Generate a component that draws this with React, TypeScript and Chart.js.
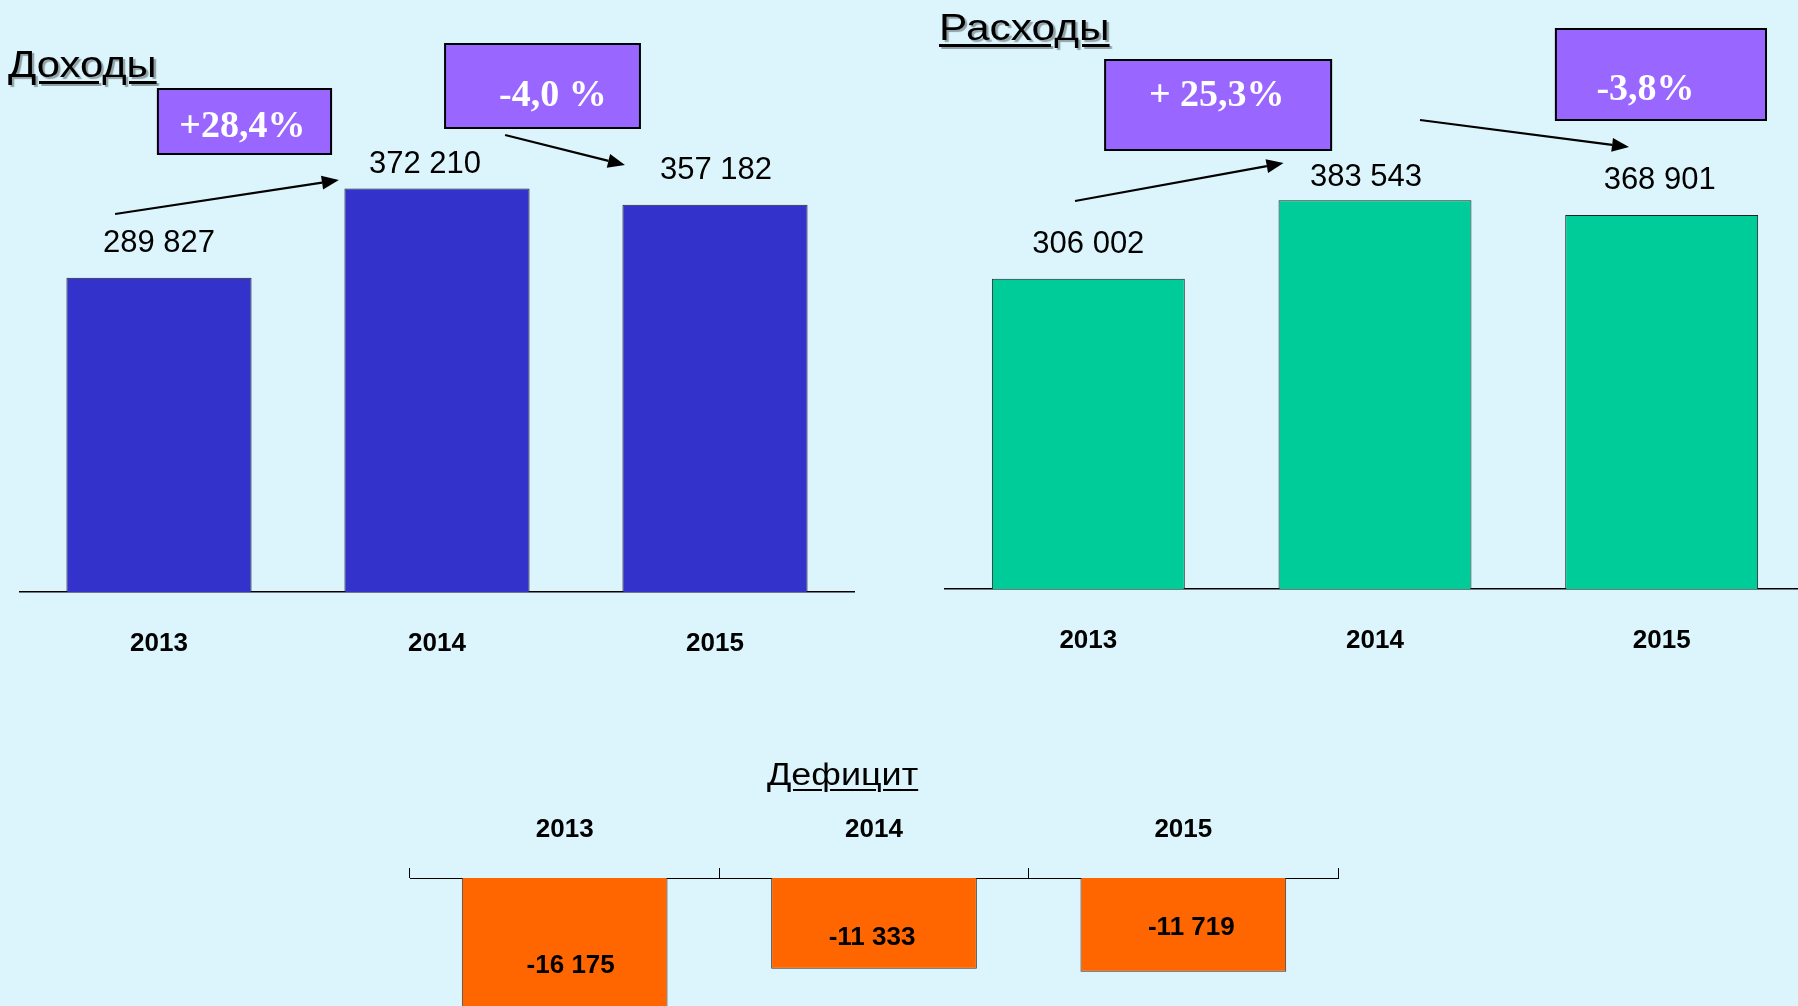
import React, { useEffect, useRef } from "react";
import { Chart, registerables } from "chart.js";

Chart.register(...registerables);

// ---------- data ----------
const years = ["2013", "2014", "2015"];
const incomeValues = [289827, 372210, 357182];
const expenseValues = [306002, 383543, 368901];
const deficitValues = [-16175, -11333, -11719];
const incomeChanges = ["+28,4%", "-4,0 %"];
const expenseChanges = ["+ 25,3%", "-3,8%"];

// ---------- styles ----------
const SANS = '"Liberation Sans", Arial, sans-serif';
const SERIF = '"Liberation Serif", "Times New Roman", serif';
const BG = "#DCF5FC";

type Ann = { box: number[]; label: string; textAt: number[]; arrow: number[] };
type Overlay = {
  labelOffsets: number[][];
  labelFont: string;
  fromBase: boolean;
  annotations: Ann[];
};

function fmt(v: number): string {
  const s = Math.abs(v).toString().replace(/\B(?=(\d{3})+(?!\d))/g, " ");
  return (v < 0 ? "-" : "") + s;
}

function overlayPlugin(id: string, cfg: Overlay) {
  return {
    id,
    afterDatasetsDraw(chart: any) {
      const ctx = chart.ctx;
      const meta = chart.getDatasetMeta(0);
      const values = chart.data.datasets[0].data as number[];
      ctx.save();
      ctx.font = cfg.labelFont;
      ctx.fillStyle = "#000";
      ctx.textAlign = "center";
      ctx.textBaseline = "alphabetic";
      meta.data.forEach((el: any, i: number) => {
        const [dx, dy] = cfg.labelOffsets[i];
        const y0 = cfg.fromBase ? el.base : el.y;
        ctx.fillText(fmt(values[i]), el.x + dx, y0 + dy);
      });
      const xs = chart.scales.x;
      const ys = chart.scales.y;
      const px = (i: number) => xs.getPixelForValue(i);
      const py = (v: number) => ys.getPixelForValue(v);
      cfg.annotations.forEach((a) => {
        const x0 = px(a.box[0]);
        const y0 = py(a.box[1]);
        const x1 = px(a.box[2]);
        const y1 = py(a.box[3]);
        ctx.fillStyle = "#9966FF";
        ctx.fillRect(x0, y0, x1 - x0, y1 - y0);
        ctx.lineWidth = 2;
        ctx.strokeStyle = "#000";
        ctx.strokeRect(x0, y0, x1 - x0, y1 - y0);
        ctx.fillStyle = "#fff";
        ctx.font = `bold 38px ${SERIF}`;
        ctx.textAlign = "center";
        ctx.fillText(a.label, px(a.textAt[0]), py(a.textAt[1]));
        // arrow
        const ax0 = px(a.arrow[0]);
        const ay0 = py(a.arrow[1]);
        const ax1 = px(a.arrow[2]);
        const ay1 = py(a.arrow[3]);
        const ang = Math.atan2(ay1 - ay0, ax1 - ax0);
        const hl = 17;
        const hw = 7;
        ctx.strokeStyle = "#000";
        ctx.lineWidth = 2.2;
        ctx.beginPath();
        ctx.moveTo(ax0, ay0);
        ctx.lineTo(ax1 - hl * Math.cos(ang), ay1 - hl * Math.sin(ang));
        ctx.stroke();
        ctx.fillStyle = "#000";
        ctx.beginPath();
        ctx.moveTo(ax1, ay1);
        ctx.lineTo(
          ax1 - hl * Math.cos(ang) + hw * Math.sin(ang),
          ay1 - hl * Math.sin(ang) - hw * Math.cos(ang)
        );
        ctx.lineTo(
          ax1 - hl * Math.cos(ang) - hw * Math.sin(ang),
          ay1 - hl * Math.sin(ang) + hw * Math.cos(ang)
        );
        ctx.closePath();
        ctx.fill();
      });
      ctx.restore();
    },
  };
}

function topChart(
  canvas: HTMLCanvasElement,
  values: number[],
  color: string,
  catPct: number,
  padding: any,
  overlay: Overlay
) {
  return new Chart(canvas, {
    type: "bar",
    data: {
      labels: years,
      datasets: [
        {
          data: values,
          backgroundColor: color,
          borderColor: "#222",
          borderWidth: 1,
          barPercentage: 1,
          categoryPercentage: catPct,
        },
      ],
    },
    options: {
      responsive: false,
      maintainAspectRatio: false,
      animation: false,
      layout: { padding },
      plugins: {
        legend: { display: false },
        tooltip: { enabled: false },
        title: { display: false },
      },
      scales: {
        x: {
          grid: { display: false, drawTicks: false },
          border: { display: true, color: "#000", width: 1.5 },
          ticks: {
            color: "#000",
            padding: 36.4,
            font: { family: SANS, size: 26, weight: "bold" },
          },
        },
        y: { display: false, min: 0, max: 500000 },
      },
    },
    plugins: [overlayPlugin("ov" + color.slice(1), overlay)],
  } as any);
}

export default function App() {
  const leftRef = useRef<HTMLCanvasElement>(null);
  const rightRef = useRef<HTMLCanvasElement>(null);
  const defRef = useRef<HTMLCanvasElement>(null);

  useEffect(() => {
    const charts: Chart[] = [];
    charts.push(
      topChart(
        leftRef.current!,
        incomeValues,
        "#3333CC",
        0.666,
        { left: 20, right: 26, top: 49.8, bottom: 0 },
        {
          labelOffsets: [
            [0, -26],
            [-12, -15],
            [1, -26],
          ],
          labelFont: `31px ${SANS}`,
          fromBase: false,
          annotations: [
            {
              box: [-0.004, 463850, 0.619, 403910],
              label: incomeChanges[0],
              textAt: [0.3, 419587],
              arrow: [-0.158, 348580, 0.647, 379934],
            },
            {
              box: [1.029, 505349, 1.73, 427886],
              label: incomeChanges[1],
              textAt: [1.417, 448174],
              arrow: [1.245, 421431, 1.676, 393766],
            },
          ],
        }
      )
    );
    charts.push(
      topChart(
        rightRef.current!,
        expenseValues,
        "#00CC99",
        0.673,
        { left: 45, right: 0, top: 82.15, bottom: 0 },
        {
          labelOffsets: [
            [0, -26],
            [-9, -14],
            [-2, -26],
          ],
          labelFont: `31px ${SANS}`,
          fromBase: false,
          annotations: [
            {
              box: [0.0585, 521851, 0.847, 433067],
              label: expenseChanges[0],
              textAt: [0.448, 476472],
              arrow: [-0.0465, 382756, 0.681, 420243],
            },
            {
              box: [1.631, 552432, 2.364, 462662],
              label: expenseChanges[1],
              textAt: [1.9435, 482391],
              arrow: [1.157, 462662, 1.886, 436027],
            },
          ],
        }
      )
    );
    charts.push(
      new Chart(defRef.current!, {
        type: "bar",
        data: {
          labels: years,
          datasets: [
            {
              data: deficitValues,
              backgroundColor: "#FF6600",
              borderColor: "#333",
              borderWidth: 1,
              barPercentage: 1,
              categoryPercentage: 0.665,
            },
          ],
        },
        options: {
          responsive: false,
          maintainAspectRatio: false,
          animation: false,
          layout: { padding: { left: 20, right: 12, top: 0, bottom: 0 } },
          plugins: {
            legend: { display: false },
            tooltip: { enabled: false },
            title: { display: false },
          },
          scales: {
            x: {
              position: "top",
              grid: {
                display: true,
                drawOnChartArea: false,
                drawTicks: true,
                tickLength: 10,
                color: "#000",
                lineWidth: 1,
              },
              border: { display: true, color: "#000", width: 1 },
              ticks: {
                color: "#000",
                padding: 22.4,
                font: { family: SANS, size: 26, weight: "bold" },
              },
            },
            y: { display: false, min: -20000, max: 0 },
          },
        },
        plugins: [
          overlayPlugin("ovdef", {
            labelOffsets: [
              [6, 95],
              [-2, 67],
              [8, 57],
            ],
            labelFont: `bold 26px ${SANS}`,
            fromBase: true,
            annotations: [],
          }),
        ],
      } as any)
    );
    return () => charts.forEach((c) => c.destroy());
  }, []);

  const title: React.CSSProperties = {
    position: "absolute",
    fontFamily: SANS,
    lineHeight: 1,
    color: "#000",
    textDecoration: "underline",
    textDecorationThickness: "3px",
    textUnderlineOffset: "4px",
    textShadow: "2px 2px 1px rgba(0,0,0,0.35)",
    whiteSpace: "nowrap",
    transformOrigin: "0 0",
  };

  return (
    <div
      style={{
        position: "absolute",
        left: 0,
        top: 0,
        width: 1798,
        height: 1006,
        overflow: "hidden",
        background: BG,
      }}
    >
      <div style={{ ...title, left: 8, top: 46.5, fontSize: 36, transform: "scaleX(1.16)" }}>Доходы</div>
      <div style={{ ...title, left: 939, top: 9.5, fontSize: 36, transform: "scaleX(1.18)" }}>Расходы</div>
      <div
        style={{
          ...title,
          left: 767,
          top: 758.8,
          fontSize: 31,
          textShadow: "none",
          textDecorationThickness: "2px",
          transform: "scaleX(1.16)",
        }}
      >
        Дефицит
      </div>
      <canvas
        ref={leftRef}
        width={880}
        height={696}
        style={{ position: "absolute", left: 0, top: 0, width: 880, height: 696 }}
      />
      <canvas
        ref={rightRef}
        width={905}
        height={693}
        style={{ position: "absolute", left: 900, top: 0, width: 905, height: 693 }}
      />
      <canvas
        ref={defRef}
        width={960}
        height={246}
        style={{ position: "absolute", left: 390, top: 792, width: 960, height: 246 }}
      />
    </div>
  );
}
